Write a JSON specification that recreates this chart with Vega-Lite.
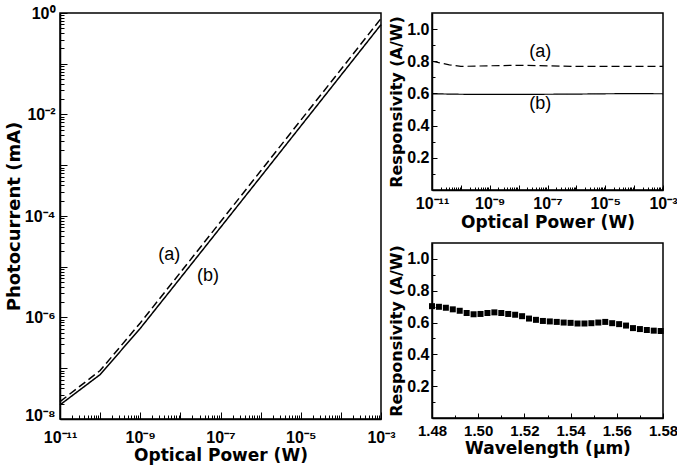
{
  "$schema": "https://vega.github.io/schema/vega-lite/v6.json",
  "padding": {"left": 4, "top": 4, "right": 4, "bottom": 3},
  "bounds": "flush",
  "spacing": 51,
  "config": {
    "font": "Liberation Sans",
    "view": {"stroke": "black", "strokeWidth": 1.5},
    "axis": {
      "grid": false,
      "labelFont": "Liberation Sans",
      "labelFontWeight": "bold",
      "labelFontSize": 16,
      "labelColor": "black",
      "titleFont": "DejaVu Sans",
      "titleFontWeight": "bold",
      "titleFontSize": 17,
      "titleColor": "black",
      "domainColor": "black",
      "domainWidth": 1.5,
      "tickColor": "black",
      "tickWidth": 1,
      "labelOverlap": false,
      "labelFlush": false
    }
  },
  "datasets": {
    "lp": [
      {"P": 1e-11, "I": 2.2e-8, "c": "a"}, {"P": 1e-10, "I": 9.0e-8, "c": "a"}, {"P": 1e-9, "I": 7.8e-7, "c": "a"},
      {"P": 1e-8, "I": 7.7e-6, "c": "a"}, {"P": 1e-7, "I": 7.7e-5, "c": "a"}, {"P": 1e-6, "I": 7.7e-4, "c": "a"},
      {"P": 1e-5, "I": 7.7e-3, "c": "a"}, {"P": 1e-4, "I": 7.7e-2, "c": "a"}, {"P": 1e-3, "I": 0.78, "c": "a"},
      {"P": 1e-11, "I": 1.9e-8, "c": "b"}, {"P": 1e-10, "I": 7.5e-8, "c": "b"}, {"P": 1e-9, "I": 6.1e-7, "c": "b"},
      {"P": 1e-8, "I": 6.0e-6, "c": "b"}, {"P": 1e-7, "I": 5.95e-5, "c": "b"}, {"P": 1e-6, "I": 5.9e-4, "c": "b"},
      {"P": 1e-5, "I": 5.9e-3, "c": "b"}, {"P": 1e-4, "I": 5.9e-2, "c": "b"}, {"P": 1e-3, "I": 0.59, "c": "b"}
    ],
    "llab": [
      {"P": 5.3e-9, "I": 1.68e-5, "t": "(a)"},
      {"P": 4.9e-8, "I": 6.6e-6, "t": "(b)"}
    ],
    "rp": [
      {"P": 1e-11, "R": 0.8, "c": "a"}, {"P": 4e-11, "R": 0.778, "c": "a"}, {"P": 1e-10, "R": 0.768, "c": "a"},
      {"P": 1e-9, "R": 0.772, "c": "a"}, {"P": 1e-8, "R": 0.775, "c": "a"}, {"P": 1e-7, "R": 0.772, "c": "a"},
      {"P": 1e-6, "R": 0.768, "c": "a"}, {"P": 1e-5, "R": 0.768, "c": "a"}, {"P": 1e-4, "R": 0.768, "c": "a"},
      {"P": 1e-3, "R": 0.768, "c": "a"},
      {"P": 1e-11, "R": 0.598, "c": "b"}, {"P": 1e-10, "R": 0.595, "c": "b"}, {"P": 1e-9, "R": 0.594, "c": "b"},
      {"P": 1e-8, "R": 0.594, "c": "b"}, {"P": 1e-7, "R": 0.595, "c": "b"}, {"P": 1e-6, "R": 0.596, "c": "b"},
      {"P": 1e-5, "R": 0.598, "c": "b"}, {"P": 1e-4, "R": 0.599, "c": "b"}, {"P": 1e-3, "R": 0.598, "c": "b"}
    ],
    "rlab": [
      {"P": 5.6e-8, "R": 0.858, "t": "(a)"},
      {"P": 5.6e-8, "R": 0.535, "t": "(b)"}
    ],
    "wl": [
      {"w": 1.480, "R": 0.703}, {"w": 1.483, "R": 0.699}, {"w": 1.486, "R": 0.693}, {"w": 1.489, "R": 0.683},
      {"w": 1.492, "R": 0.674}, {"w": 1.495, "R": 0.660}, {"w": 1.498, "R": 0.652}, {"w": 1.501, "R": 0.654},
      {"w": 1.504, "R": 0.660}, {"w": 1.507, "R": 0.664}, {"w": 1.510, "R": 0.660}, {"w": 1.513, "R": 0.654},
      {"w": 1.516, "R": 0.649}, {"w": 1.519, "R": 0.640}, {"w": 1.522, "R": 0.625}, {"w": 1.525, "R": 0.617},
      {"w": 1.528, "R": 0.610}, {"w": 1.531, "R": 0.607}, {"w": 1.534, "R": 0.604}, {"w": 1.537, "R": 0.600},
      {"w": 1.540, "R": 0.598}, {"w": 1.543, "R": 0.594}, {"w": 1.546, "R": 0.594}, {"w": 1.549, "R": 0.596},
      {"w": 1.552, "R": 0.600}, {"w": 1.555, "R": 0.604}, {"w": 1.558, "R": 0.596}, {"w": 1.561, "R": 0.590},
      {"w": 1.564, "R": 0.581}, {"w": 1.567, "R": 0.565}, {"w": 1.570, "R": 0.559}, {"w": 1.573, "R": 0.553},
      {"w": 1.576, "R": 0.549}, {"w": 1.579, "R": 0.547}
    ]
  },
  "hconcat": [
    {
      "width": 321,
      "height": 406,
      "encoding": {
        "x": {
          "field": "P", "type": "quantitative",
          "scale": {"type": "log", "domain": [1e-11, 1e-3], "nice": false},
          "axis": {
            "title": "Optical Power (W)",
            "values": [1e-11,2e-11,3e-11,4e-11,5e-11,6e-11,7e-11,8e-11,9e-11,1e-10,2e-10,3e-10,4e-10,5e-10,6e-10,7e-10,8e-10,9e-10,1e-9,2e-9,3e-9,4e-9,5e-9,6e-9,7e-9,8e-9,9e-9,1e-8,2e-8,3e-8,4e-8,5e-8,6e-8,7e-8,8e-8,9e-8,1e-7,2e-7,3e-7,4e-7,5e-7,6e-7,7e-7,8e-7,9e-7,1e-6,2e-6,3e-6,4e-6,5e-6,6e-6,7e-6,8e-6,9e-6,1e-5,2e-5,3e-5,4e-5,5e-5,6e-5,7e-5,8e-5,9e-5,1e-4,2e-4,3e-4,4e-4,5e-4,6e-4,7e-4,8e-4,9e-4,1e-3],
            "labelExpr": "abs(log(datum.value)/LN10 - round(log(datum.value)/LN10)) > 0.001 ? '' : round(log(datum.value)/LN10) == -11 ? '10⁻¹¹' : round(log(datum.value)/LN10) == -9 ? '10⁻⁹' : round(log(datum.value)/LN10) == -7 ? '10⁻⁷' : round(log(datum.value)/LN10) == -5 ? '10⁻⁵' : round(log(datum.value)/LN10) == -3 ? '10⁻³' : ''",
            "tickSize": {"condition": {"test": "abs(log(datum.value)/LN10 - round(log(datum.value)/LN10)) < 0.001", "value": -7}, "value": -4},
            "labelPadding": 17,
            "titlePadding": -1
          }
        },
        "y": {
          "field": "I", "type": "quantitative",
          "scale": {"type": "log", "domain": [1e-8, 1], "nice": false},
          "axis": {
            "title": "Photocurrent (mA)",
            "titleFontSize": 18,
            "values": [1e-8,2e-8,3e-8,4e-8,5e-8,6e-8,7e-8,8e-8,9e-8,1e-7,2e-7,3e-7,4e-7,5e-7,6e-7,7e-7,8e-7,9e-7,1e-6,2e-6,3e-6,4e-6,5e-6,6e-6,7e-6,8e-6,9e-6,1e-5,2e-5,3e-5,4e-5,5e-5,6e-5,7e-5,8e-5,9e-5,1e-4,2e-4,3e-4,4e-4,5e-4,6e-4,7e-4,8e-4,9e-4,1e-3,2e-3,3e-3,4e-3,5e-3,6e-3,7e-3,8e-3,9e-3,1e-2,2e-2,3e-2,4e-2,5e-2,6e-2,7e-2,8e-2,9e-2,1e-1,2e-1,3e-1,4e-1,5e-1,6e-1,7e-1,8e-1,9e-1,1],
            "labelExpr": "abs(log(datum.value)/LN10 - round(log(datum.value)/LN10)) > 0.001 ? '' : round(log(datum.value)/LN10) == 0 ? '10⁰' : round(log(datum.value)/LN10) == -2 ? '10⁻²' : round(log(datum.value)/LN10) == -4 ? '10⁻⁴' : round(log(datum.value)/LN10) == -6 ? '10⁻⁶' : round(log(datum.value)/LN10) == -8 ? '10⁻⁸' : ''",
            "labelOffset": {"condition": {"test": "datum.value < 2e-8", "value": -4}, "value": 0},
            "tickSize": {"condition": {"test": "abs(log(datum.value)/LN10 - round(log(datum.value)/LN10)) < 0.001", "value": -7}, "value": -4},
            "labelPadding": 12,
            "titlePadding": 1
          }
        }
      },
      "layer": [
        {
          "data": {"name": "lp"},
          "mark": {"type": "line", "color": "black", "strokeWidth": 1.5},
          "encoding": {
            "strokeDash": {"field": "c", "type": "nominal", "scale": {"domain": ["a", "b"], "range": [[8, 4], [1, 0]]}, "legend": null}
          }
        },
        {
          "data": {"name": "llab"},
          "mark": {"type": "text", "fontSize": 18, "color": "black", "font": "Liberation Sans"},
          "encoding": {"text": {"field": "t"}}
        }
      ]
    },
    {
      "bounds": "flush",
      "spacing": 53,
      "vconcat": [
        {
          "width": 231,
          "height": 177,
          "encoding": {
            "x": {
              "field": "P", "type": "quantitative",
              "scale": {"type": "log", "domain": [1e-11, 1e-3], "nice": false},
              "axis": {
                "title": "Optical Power (W)",
                "values": [1e-11,2e-11,3e-11,4e-11,5e-11,6e-11,7e-11,8e-11,9e-11,1e-10,2e-10,3e-10,4e-10,5e-10,6e-10,7e-10,8e-10,9e-10,1e-9,2e-9,3e-9,4e-9,5e-9,6e-9,7e-9,8e-9,9e-9,1e-8,2e-8,3e-8,4e-8,5e-8,6e-8,7e-8,8e-8,9e-8,1e-7,2e-7,3e-7,4e-7,5e-7,6e-7,7e-7,8e-7,9e-7,1e-6,2e-6,3e-6,4e-6,5e-6,6e-6,7e-6,8e-6,9e-6,1e-5,2e-5,3e-5,4e-5,5e-5,6e-5,7e-5,8e-5,9e-5,1e-4,2e-4,3e-4,4e-4,5e-4,6e-4,7e-4,8e-4,9e-4,1e-3],
                "labelExpr": "abs(log(datum.value)/LN10 - round(log(datum.value)/LN10)) > 0.001 ? '' : round(log(datum.value)/LN10) == -11 ? '10⁻¹¹' : round(log(datum.value)/LN10) == -9 ? '10⁻⁹' : round(log(datum.value)/LN10) == -7 ? '10⁻⁷' : round(log(datum.value)/LN10) == -5 ? '10⁻⁵' : round(log(datum.value)/LN10) == -3 ? '10⁻³' : ''",
                "tickSize": {"condition": {"test": "abs(log(datum.value)/LN10 - round(log(datum.value)/LN10)) < 0.001", "value": -5}, "value": -3},
                "labelPadding": 10,
                "titlePadding": 1
              }
            },
            "y": {
              "field": "R", "type": "quantitative",
              "scale": {"domain": [0, 1.1], "nice": false, "zero": false},
              "axis": {
                "title": "Responsivity (A/W)",
                "titleFontSize": 16,
                "values": [0.1, 0.2, 0.3, 0.4, 0.5, 0.6, 0.7, 0.8, 0.9, 1.0],
                "labelExpr": "round(datum.value*10) % 2 == 0 ? format(datum.value, '.1f') : ''",
                "tickSize": {"condition": {"test": "round(datum.value*10) % 2 == 0", "value": -5}, "value": -3},
                "labelPadding": 8,
                "titlePadding": 2
              }
            }
          },
          "layer": [
            {
              "data": {"name": "rp"},
              "mark": {"type": "line", "color": "black", "strokeWidth": 1.2},
              "encoding": {
                "strokeDash": {"field": "c", "type": "nominal", "scale": {"domain": ["a", "b"], "range": [[3, 2], [1, 0]]}, "legend": null}
              }
            },
            {
              "data": {"name": "rlab"},
              "mark": {"type": "text", "fontSize": 18, "color": "black", "font": "Liberation Sans"},
              "encoding": {"text": {"field": "t"}}
            }
          ]
        },
        {
          "width": 231,
          "height": 175,
          "data": {"name": "wl"},
          "mark": {"type": "square", "color": "black", "size": 36, "opacity": 1},
          "encoding": {
            "x": {
              "field": "w", "type": "quantitative",
              "scale": {"domain": [1.48, 1.58], "nice": false, "zero": false},
              "axis": {
                "title": "Wavelength (μm)",
                "labelFontSize": 15,
                "values": [1.48, 1.49, 1.50, 1.51, 1.52, 1.53, 1.54, 1.55, 1.56, 1.57, 1.58],
                "labelExpr": "round(datum.value*100) % 2 == 0 ? format(datum.value, '.2f') : ''",
                "tickSize": {"condition": {"test": "round(datum.value*100) % 2 == 0", "value": -5}, "value": -3},
                "labelPadding": 10,
                "titlePadding": 0
              }
            },
            "y": {
              "field": "R", "type": "quantitative",
              "scale": {"domain": [0, 1.1], "nice": false, "zero": false},
              "axis": {
                "title": "Responsivity (A/W)",
                "titleFontSize": 16,
                "values": [0.1, 0.2, 0.3, 0.4, 0.5, 0.6, 0.7, 0.8, 0.9, 1.0],
                "labelExpr": "round(datum.value*10) % 2 == 0 ? format(datum.value, '.1f') : ''",
                "tickSize": {"condition": {"test": "round(datum.value*10) % 2 == 0", "value": -5}, "value": -3},
                "labelPadding": 8,
                "titlePadding": 2
              }
            }
          }
        }
      ]
    }
  ]
}
